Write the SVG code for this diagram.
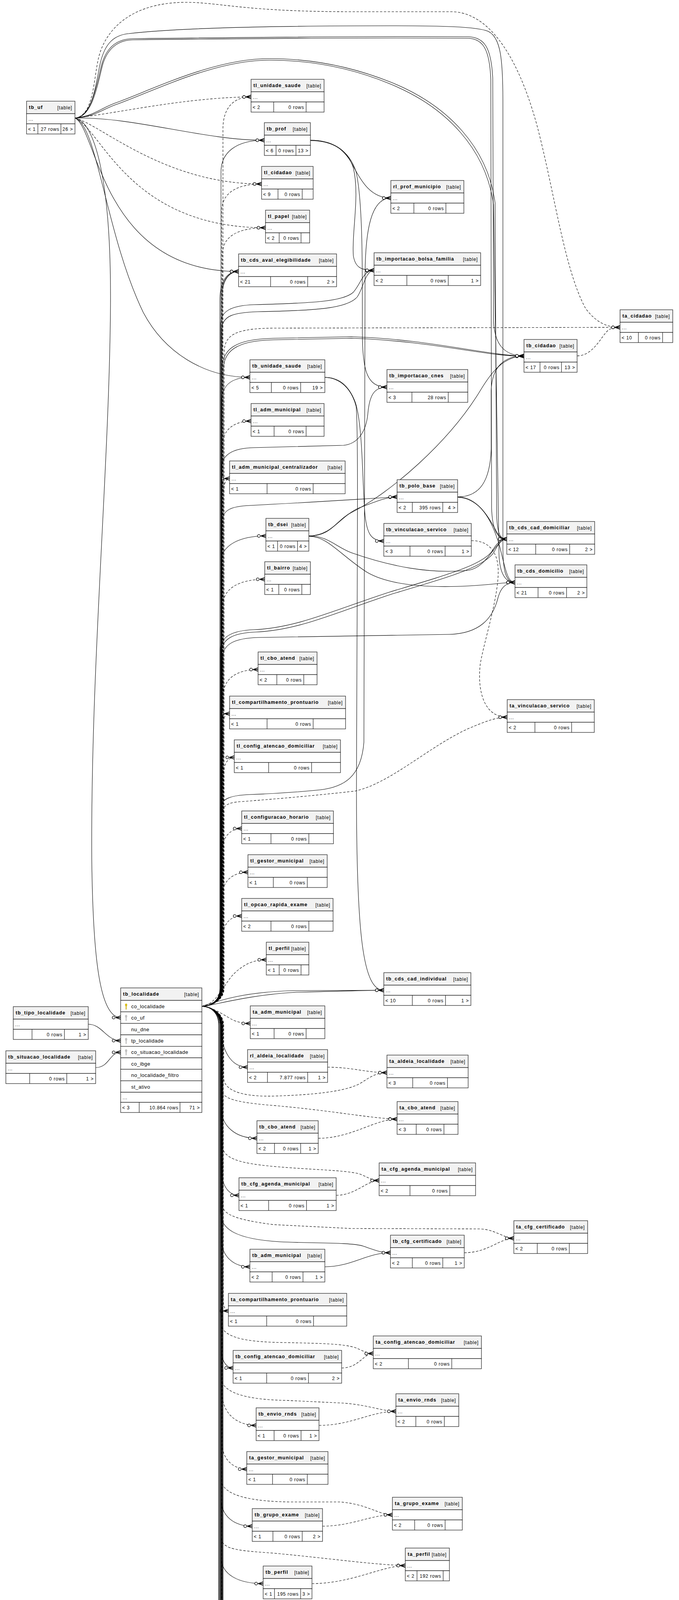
<svg xmlns="http://www.w3.org/2000/svg" xmlns:xlink="http://www.w3.org/1999/xlink" width="1739" height="5931" viewBox="0 0 1739 5931">
<style>
.hd{fill:#f2f2f2;stroke:#1a1a1a;stroke-width:1.2}
.bd{fill:#fff;stroke:#1a1a1a;stroke-width:1.2}
.dv{stroke:#1a1a1a;stroke-width:1.2;fill:none}
text{font-family:"Liberation Sans",Arial,sans-serif;fill:#000}
.h{font-size:12.5px;font-weight:bold;letter-spacing:1px}
.t{font-size:12px;letter-spacing:0.8px}
.c{font-size:13px;letter-spacing:0.5px}
.r{text-anchor:end}
.e{fill:none;stroke:#000;stroke-width:1.1;marker-end:url(#cf)}
.d{stroke-dasharray:6 4}
.ky{fill:#e8c800;stroke:#9a8400;stroke-width:0.5}
.kg{fill:#c4c4c4;stroke:#999;stroke-width:0.5}
</style>
<defs>
<marker id="cf" viewBox="0 0 24 12" refX="24" refY="6" markerWidth="24" markerHeight="12" markerUnits="userSpaceOnUse" orient="auto">
<path d="M11,6L24,1.5M11,6L24,6M11,6L24,10.5" fill="none" stroke="#000" stroke-width="1.8"/>
<circle cx="6" cy="6" r="3.6" fill="#fff" stroke="#000" stroke-width="1.3"/>
</marker>
<g id="keyY" class="ky"><ellipse cx="0" cy="-4.5" rx="2.4" ry="3"/><rect x="-0.9" y="-2" width="1.8" height="9"/></g>
<g id="keyG" class="kg"><ellipse cx="0" cy="-4.5" rx="2.4" ry="3"/><rect x="-0.9" y="-2" width="1.8" height="9"/></g>
</defs>
<rect width="1739" height="5931" fill="#fff"/>
<g id="connectors">
<path class="e d" d="M517,2576 C540,2576 571,2562 571,2530 L571,330 C571,280 595,248 643,248"/>
<path class="e" d="M517,2576 C540,2576 566,2562 566,2530 L566,440 C566,390 605,359 677,359"/>
<path class="e d" d="M517,2576 C540,2576 568,2562 568,2530 L568,540 C568,495 605,471 670,471"/>
<path class="e d" d="M517,2576 C540,2576 570,2562 570,2530 L570,650 C570,605 610,583 680,583"/>
<path class="e" d="M517,2576 C540,2576 563,2562 563,2530 L563,770 C563,720 580,695 611,695"/>
<path class="e" d="M517,2576 C540,2576 566,2562 566,2530 L566,765 C566,718 585,695 611,695"/>
<path class="e" d="M517,2576 C540,2576 569,2562 569,2530 L569,760 C569,716 588,695 611,695"/>
<path class="e" d="M517,2576 C540,2576 567,2562 567,2530 L567,1030 C567,985 595,966 640,966"/>
<path class="e d" d="M517,2576 C540,2576 570,2562 570,2530 L570,1140 C570,1100 600,1078 643,1078"/>
<path class="e d" d="M517,2576 C540,2576 572,2562 572,2530 L572,1275 C572,1245 576,1225 588,1225"/>
<path class="e" d="M517,2576 C540,2576 566,2562 566,2530 L566,1440 C566,1395 615,1372 681,1372"/>
<path class="e d" d="M517,2576 C540,2576 571,2562 571,2530 L571,1550 C571,1505 615,1483 678,1483"/>
<path class="e d" d="M517,2576 C540,2576 572,2562 572,2530 L572,1780 C572,1735 610,1714 661,1714"/>
<path class="e d" d="M517,2576 C540,2576 570,2562 570,2530 L570,1862 C570,1840 576,1827 588,1827"/>
<path class="e d" d="M517,2576 C540,2576 573,2562 573,2530 L573,1982 C573,1955 584,1939 600,1939"/>
<path class="e d" d="M517,2576 C540,2576 568,2562 568,2530 L568,2185 C568,2140 592,2121 619,2121"/>
<path class="e d" d="M517,2576 C540,2576 569,2562 569,2530 L569,2295 C569,2252 600,2233 635,2233"/>
<path class="e d" d="M517,2576 C540,2576 570,2562 570,2530 L570,2405 C570,2362 592,2345 619,2345"/>
<path class="e d" d="M517,2576 C555,2572 572,2520 600,2492 C625,2468 650,2457 682,2457"/>
<path class="e" d="M517,2576 C560,2562 620,2540 750,2536 L983,2535"/>
<path class="e" d="M517,2577 C565,2569 640,2547 760,2540 C900,2537 950,2535 983,2535"/>
<path class="e d" d="M517,2576 C540,2576 574,2562 574,2530 L574,905 C574,858 600,841 700,840 L1588,838"/>
<path class="e" d="M517,2576 C540,2576 569,2562 569,2530 L569,945 C569,895 600,868 700,866 L900,862 C1100,868 1250,911 1342,911"/>
<path class="e" d="M517,2576 C540,2576 572,2562 572,2530 L572,948 C572,900 603,872 700,870 L900,866 C1100,872 1250,913 1342,912"/>
<path class="e" d="M517,2576 C540,2576 565,2562 565,2530 L565,830 C565,795 595,782 650,780 C800,776 880,772 905,748 C925,725 930,692 958,692"/>
<path class="e" d="M517,2576 C540,2576 568,2562 568,2530 L568,845 C568,808 598,800 660,798 C810,795 890,790 915,760 C932,735 935,694 958,692"/>
<path class="e" d="M517,2576 C540,2576 565,2562 565,2530 L565,2070 C565,2045 590,2036 640,2034 C700,2032 760,2028 820,2022 C880,2015 925,1990 932,1900 L935,700 C936,590 950,507 1001,507"/>
<path class="e" d="M517,2576 C540,2576 567,2562 567,2530 L567,1200 C567,1162 600,1147 650,1146 L880,1140 C920,1136 938,1100 942,1060 C946,1012 958,991 991,991"/>
<path class="e" d="M517,2576 C540,2576 568,2562 568,2530 L568,1340 C568,1305 592,1296 640,1294 C800,1286 900,1279 1017,1272"/>
<path class="e d" d="M517,2576 C540,2576 566,2562 566,2530 L566,2095 C566,2062 582,2054 620,2052 C750,2042 850,2032 910,2025 C1000,2005 1100,1910 1200,1865 C1240,1848 1270,1836 1299,1836"/>
<path class="e" d="M517,2576 C540,2576 564,2562 564,2530 L564,1665 C564,1628 598,1614 650,1612 C760,1608 860,1560 1000,1515 C1150,1470 1240,1445 1262,1408 C1272,1392 1282,1380 1298,1380"/>
<path class="e" d="M517,2576 C540,2576 567,2562 567,2530 L567,1672 C567,1634 600,1620 655,1618 C765,1614 865,1566 1003,1521 C1153,1476 1243,1451 1266,1412 C1275,1395 1284,1380 1298,1380"/>
<path class="e" d="M517,2576 C540,2576 570,2562 570,2530 L570,1685 C570,1648 602,1634 660,1632 L1150,1624 C1230,1622 1262,1582 1275,1532 C1282,1505 1295,1491 1319,1491"/>
<path class="e d" d="M517,2576 C550,2580 575,2600 598,2612 C613,2618 625,2620 641,2620"/>
<path class="e" d="M517,2576 C540,2577 566,2592 566,2630 C567,2690 592,2732 634,2732"/>
<path class="e d" d="M517,2576 C540,2577 573,2592 573,2625 L573,2760 C574,2792 620,2808 700,2806 C800,2803 880,2795 920,2775 C945,2760 960,2746 991,2746"/>
<path class="e" d="M517,2576 C540,2577 566,2592 566,2625 L566,2835 C567,2885 605,2914 658,2914"/>
<path class="e d" d="M517,2576 C540,2577 568,2592 568,2625 L568,2790 C570,2812 600,2822 700,2830 C850,2843 950,2863 1017,2865"/>
<path class="e" d="M517,2576 C540,2577 567,2592 567,2625 L567,2995 C568,3035 585,3060 612,3060"/>
<path class="e d" d="M517,2576 C540,2577 569,2592 569,2625 L569,2930 C570,2962 600,2977 700,2986 C800,2995 880,2995 920,3005 C940,3012 950,3022 971,3022"/>
<path class="e d" d="M517,2576 C540,2577 570,2592 570,2625 L570,3085 C571,3108 600,3122 700,3135 L900,3145 L1230,3146 C1270,3148 1290,3170 1316,3170"/>
<path class="e" d="M517,2576 C540,2577 565,2592 565,2625 L565,3105 C566,3145 600,3172 717,3179 C800,3183 900,3180 930,3190 C960,3200 975,3207 1000,3207"/>
<path class="e" d="M517,2576 C540,2577 568,2592 568,2625 L568,3175 C568,3218 600,3243 640,3243"/>
<path class="e d" d="M517,2576 C540,2577 572,2592 572,2625 L572,3330 C572,3346 578,3356 585,3356"/>
<path class="e d" d="M517,2576 C540,2577 566,2592 566,2625 L566,3385 C566,3422 620,3436 732,3437 C820,3439 880,3440 910,3450 C930,3458 940,3465 956,3465"/>
<path class="e" d="M517,2576 C540,2577 566,2592 566,2625 L566,3445 C566,3482 578,3502 597,3502"/>
<path class="e d" d="M517,2576 C540,2577 566,2592 566,2625 L566,3525 C566,3562 620,3583 732,3585 L881,3592 C950,3598 980,3613 1014,3613"/>
<path class="e d" d="M517,2576 C540,2577 569,2592 569,2625 L569,3565 C569,3622 610,3649 656,3649"/>
<path class="e d" d="M517,2576 C540,2577 569,2592 569,2625 L569,3695 C569,3738 600,3761 632,3761"/>
<path class="e d" d="M517,2576 C540,2577 566,2592 566,2625 L566,3785 C566,3822 620,3843 740,3845 L870,3845 C940,3850 970,3878 1005,3878"/>
<path class="e" d="M517,2576 C540,2577 566,2592 566,2625 L566,3835 C566,3882 600,3907 646,3907"/>
<path class="e d" d="M517,2576 C540,2577 566,2592 566,2625 L566,3932 C566,3966 600,3969 700,3976 C850,3990 950,4005 1038,4008"/>
<path class="e" d="M517,2576 C540,2577 566,2592 566,2625 L566,3985 C566,4032 612,4054 674,4054"/>
<path class="e d" d="M517,2576 C540,2577 568,2592 568,2625 L568,4095 C568,4142 600,4166 640,4166"/>
<path class="e d" d="M517,2576 C540,2577 566,2592 566,2625 L566,4192 C566,4227 620,4246 720,4250 C850,4258 940,4276 1010,4276"/>
<path class="e" d="M517,2576 C540,2577 566,2592 566,2625 L566,4245 C566,4292 600,4313 651,4313"/>
<path class="e" d="M517,2576 C540,2577 569,2592 569,2625 L569,4362 C574,4402 612,4425 664,4425"/>
<path class="e" d="M517,2576 C540,2577 560,2592 560,2625 L560,4460 C562,4505 575,4533 594,4537"/>
<path class="e" d="M517,2576 C540,2577 563,2592 563,2625 L563,4572 C565,4617 578,4644 594,4649"/>
<path class="e" d="M517,2576 C540,2577 566,2592 566,2625 L566,4682 C568,4730 585,4756 604,4761"/>
<path class="e" d="M517,2576 C540,2577 569,2592 569,2625 L569,4782 C575,4842 600,4869 627,4873"/>
<path class="e" d="M517,2576 C540,2577 567,2592 567,2625 L567,4930 C567,4962 572,4981 582,4985"/>
<path class="e" d="M517,2576 C540,2577 566,2592 566,2625 L566,5002 C570,5062 600,5093 630,5097"/>
<path class="e" d="M517,2576 C540,2577 571,2592 571,2625 L571,5140 C573,5182 595,5205 618,5209"/>
<path class="e" d="M517,2576 C540,2577 568,2592 568,2625 L568,5252 C570,5292 580,5317 594,5321"/>
<path class="e" d="M517,2576 C540,2577 566,2592 566,2625 L566,5362 C568,5402 578,5429 591,5433"/>
<path class="e" d="M517,2576 C540,2577 571,2592 571,2625 L571,5480 C572,5542 588,5603 628,5606"/>
<path class="e" d="M517,2576 C540,2577 564,2592 564,2625 L564,5640 C566,5692 592,5721 632,5723"/>
<path class="e" d="M517,2576 C540,2577 561,2592 561,2625 L561,5760 C565,5812 612,5835 667,5835"/>
<path class="e" d="M226,2622 C262,2622 272,2664 309,2664"/>
<path class="e" d="M245,2733 C280,2733 280,2694 309,2694"/>
<path class="e" d="M192,302 C240,310 285,450 283,780 C280,1200 232,1700 235,2200 C238,2450 255,2605 309,2605"/>
<path class="e d" d="M192,302 C300,290 470,250 643,248"/>
<path class="e" d="M192,302 C350,300 520,359 677,359"/>
<path class="e d" d="M192,302 C260,320 420,471 670,471"/>
<path class="e d" d="M192,302 C260,330 330,583 680,583"/>
<path class="e" d="M192,302 C250,330 260,695 611,695"/>
<path class="e" d="M192,302 C250,320 270,600 367,800 C420,900 520,966 640,966"/>
<path class="e d" d="M192,302 C240,298 240,200 252,150 C268,80 330,8 471,6 C560,5 620,30 900,30 L1156,30 C1240,30 1320,120 1375,320 C1420,490 1445,690 1500,790 C1530,830 1560,838 1588,838"/>
<path class="e" d="M192,302 C235,300 245,220 255,170 C265,120 285,90 330,86 C450,72 700,66 1000,66 C1130,66 1220,68 1250,80 C1282,95 1288,150 1288,260 L1288,1400 C1288,1460 1295,1491 1319,1491"/>
<path class="e" d="M192,302 C238,300 250,200 262,160 C275,120 300,100 340,99 C600,96 1000,92 1200,94 C1240,96 1258,120 1262,200 L1264,820 C1266,880 1290,911 1342,911"/>
<path class="e" d="M192,302 C240,301 252,202 264,162 C277,123 302,103 340,102 C600,99 1000,96 1200,98 C1236,100 1254,124 1257,204 L1259,1300 C1261,1360 1275,1380 1298,1380"/>
<path class="e" d="M192,302 C240,298 260,275 300,262 C400,225 550,150 690,150 C800,150 900,170 1000,210 C1150,270 1250,380 1268,520 L1272,1320 C1274,1365 1280,1380 1298,1380"/>
<path class="e" d="M192,302 C242,300 262,279 302,266 C402,229 552,154 690,154 C800,154 900,174 997,214 C1146,274 1245,384 1264,524 L1278,1420 C1280,1470 1295,1491 1319,1491"/>
<path class="e" d="M795,359 C850,359 880,380 902,420 C925,465 950,507 1001,507"/>
<path class="e" d="M795,359 C850,359 890,382 905,430 C922,500 900,600 905,655 C910,685 925,692 958,692"/>
<path class="e" d="M795,360 C852,360 895,385 912,440 C930,520 928,700 928,850 C928,950 940,991 991,991"/>
<path class="e" d="M832,966 C870,966 895,990 910,1030 C930,1090 928,1250 935,1320 C940,1365 950,1385 983,1385"/>
<path class="e" d="M832,966 C872,968 900,995 912,1040 C918,1100 915,1400 913,2000 C912,2400 930,2535 983,2535"/>
<path class="e" d="M791,1372 C850,1372 870,1322 920,1300 C960,1285 990,1272 1017,1272"/>
<path class="e" d="M791,1372 C850,1372 860,1332 900,1312 C1000,1262 1150,1132 1230,1000 C1260,950 1290,913 1342,911"/>
<path class="e" d="M791,1372 C840,1372 860,1400 900,1415 C1000,1450 1100,1470 1200,1460 C1250,1452 1270,1380 1298,1380"/>
<path class="e" d="M791,1373 C840,1373 870,1420 940,1465 C1000,1500 1100,1505 1200,1500 C1260,1497 1290,1491 1319,1491"/>
<path class="e" d="M1172,1272 C1230,1272 1255,1230 1258,1150 L1258,1000 C1260,940 1290,911 1342,911"/>
<path class="e" d="M1172,1272 C1220,1272 1250,1320 1270,1358 C1278,1373 1285,1380 1298,1380"/>
<path class="e" d="M1172,1273 C1230,1276 1260,1330 1280,1400 C1295,1460 1300,1491 1319,1491"/>
<path class="e d" d="M1207,1384 C1250,1384 1275,1410 1276,1460 C1277,1530 1240,1640 1230,1700 C1222,1770 1240,1836 1299,1836"/>
<path class="e d" d="M1478,911 C1520,911 1540,860 1558,845 C1568,839 1578,838 1588,838"/>
<path class="e d" d="M839,2732 C900,2732 940,2746 991,2746"/>
<path class="e d" d="M815,2914 C900,2914 960,2865 1017,2865"/>
<path class="e d" d="M861,3060 C910,3060 940,3022 971,3022"/>
<path class="e d" d="M1189,3207 C1250,3207 1280,3170 1316,3170"/>
<path class="e" d="M832,3243 C900,3243 940,3207 1000,3207"/>
<path class="e d" d="M875,3502 C920,3502 930,3465 956,3465"/>
<path class="e d" d="M817,3649 C900,3649 950,3613 1014,3613"/>
<path class="e d" d="M826,3907 C900,3907 950,3878 1005,3878"/>
<path class="e d" d="M799,4054 C900,4054 980,4008 1038,4008"/>
<path class="e d" d="M821,4313 C900,4313 960,4276 1010,4276"/>
</g>
<g id="tb_uf" transform="translate(68,259)"><rect class="hd" width="124" height="32"/><rect class="bd" y="32" width="124" height="26"/><rect class="bd" y="58" width="124" height="26"/><path class="dv" d="M29,58v26M88,58v26"/><text class="h" x="6" y="20">tb_uf</text><text class="t r" x="117" y="21">[table]</text><text class="t" x="5" y="50">...</text><text class="t" x="4" y="76">&lt; 1</text><text class="t r" x="84" y="76">27 rows</text><text class="t r" x="119" y="76">26 &gt;</text></g>
<g id="tl_unidade_saude" transform="translate(643,203)"><rect class="hd" width="187" height="32"/><rect class="bd" y="32" width="187" height="26"/><rect class="bd" y="58" width="187" height="26"/><path class="dv" d="M58,58v26M141,58v26"/><text class="h" x="6" y="20">tl_unidade_saude</text><text class="t r" x="180" y="21">[table]</text><text class="t" x="5" y="50">...</text><text class="t" x="4" y="76">&lt; 2</text><text class="t r" x="136" y="76">0 rows</text></g>
<g id="tb_prof" transform="translate(677,314)"><rect class="hd" width="118" height="32"/><rect class="bd" y="32" width="118" height="26"/><rect class="bd" y="58" width="118" height="26"/><path class="dv" d="M30,58v26M81,58v26"/><text class="h" x="6" y="20">tb_prof</text><text class="t r" x="111" y="21">[table]</text><text class="t" x="5" y="50">...</text><text class="t" x="4" y="76">&lt; 6</text><text class="t r" x="76" y="76">0 rows</text><text class="t r" x="113" y="76">13 &gt;</text></g>
<g id="tl_cidadao" transform="translate(670,426)"><rect class="hd" width="132" height="32"/><rect class="bd" y="32" width="132" height="26"/><rect class="bd" y="58" width="132" height="26"/><path class="dv" d="M42,58v26M104,58v26"/><text class="h" x="6" y="20">tl_cidadao</text><text class="t r" x="125" y="21">[table]</text><text class="t" x="5" y="50">...</text><text class="t" x="4" y="76">&lt; 9</text><text class="t r" x="99" y="76">0 rows</text></g>
<g id="tl_papel" transform="translate(680,538)"><rect class="hd" width="113" height="32"/><rect class="bd" y="32" width="113" height="26"/><rect class="bd" y="58" width="113" height="26"/><path class="dv" d="M35,58v26M91,58v26"/><text class="h" x="6" y="20">tl_papel</text><text class="t r" x="106" y="21">[table]</text><text class="t" x="5" y="50">...</text><text class="t" x="4" y="76">&lt; 2</text><text class="t r" x="86" y="76">0 rows</text></g>
<g id="tb_cds_aval_elegibilidade" transform="translate(611,650)"><rect class="hd" width="251" height="32"/><rect class="bd" y="32" width="251" height="26"/><rect class="bd" y="58" width="251" height="26"/><path class="dv" d="M82,58v26M177,58v26"/><text class="h" x="6" y="20">tb_cds_aval_elegibilidade</text><text class="t r" x="244" y="21">[table]</text><text class="t" x="5" y="50">...</text><text class="t" x="4" y="76">&lt; 21</text><text class="t r" x="172" y="76">0 rows</text><text class="t r" x="246" y="76">2 &gt;</text></g>
<g id="rl_prof_municipio" transform="translate(1001,462)"><rect class="hd" width="187" height="32"/><rect class="bd" y="32" width="187" height="26"/><rect class="bd" y="58" width="187" height="26"/><path class="dv" d="M59,58v26M141,58v26"/><text class="h" x="6" y="20">rl_prof_municipio</text><text class="t r" x="180" y="21">[table]</text><text class="t" x="5" y="50">...</text><text class="t" x="4" y="76">&lt; 2</text><text class="t r" x="136" y="76">0 rows</text></g>
<g id="tb_importacao_bolsa_familia" transform="translate(958,647)"><rect class="hd" width="273" height="32"/><rect class="bd" y="32" width="273" height="26"/><rect class="bd" y="58" width="273" height="26"/><path class="dv" d="M84,58v26M190,58v26"/><text class="h" x="6" y="20">tb_importacao_bolsa_familia</text><text class="t r" x="266" y="21">[table]</text><text class="t" x="5" y="50">...</text><text class="t" x="4" y="76">&lt; 2</text><text class="t r" x="185" y="76">0 rows</text><text class="t r" x="268" y="76">1 &gt;</text></g>
<g id="ta_cidadao" transform="translate(1588,793)"><rect class="hd" width="135" height="32"/><rect class="bd" y="32" width="135" height="26"/><rect class="bd" y="58" width="135" height="26"/><path class="dv" d="M47,58v26M109,58v26"/><text class="h" x="6" y="20">ta_cidadao</text><text class="t r" x="128" y="21">[table]</text><text class="t" x="5" y="50">...</text><text class="t" x="4" y="76">&lt; 10</text><text class="t r" x="104" y="76">0 rows</text></g>
<g id="tb_cidadao" transform="translate(1342,869)"><rect class="hd" width="136" height="32"/><rect class="bd" y="32" width="136" height="26"/><rect class="bd" y="58" width="136" height="26"/><path class="dv" d="M41,58v26M96,58v26"/><text class="h" x="6" y="20">tb_cidadao</text><text class="t r" x="129" y="21">[table]</text><text class="t" x="5" y="50">...</text><text class="t" x="4" y="76">&lt; 17</text><text class="t r" x="91" y="76">0 rows</text><text class="t r" x="131" y="76">13 &gt;</text></g>
<g id="tb_importacao_cnes" transform="translate(991,946)"><rect class="hd" width="207" height="32"/><rect class="bd" y="32" width="207" height="26"/><rect class="bd" y="58" width="207" height="26"/><path class="dv" d="M64,58v26M157,58v26"/><text class="h" x="6" y="20">tb_importacao_cnes</text><text class="t r" x="200" y="21">[table]</text><text class="t" x="5" y="50">...</text><text class="t" x="4" y="76">&lt; 3</text><text class="t r" x="152" y="76">28 rows</text></g>
<g id="tb_unidade_saude" transform="translate(640,921)"><rect class="hd" width="192" height="32"/><rect class="bd" y="32" width="192" height="26"/><rect class="bd" y="58" width="192" height="26"/><path class="dv" d="M55,58v26M130,58v26"/><text class="h" x="6" y="20">tb_unidade_saude</text><text class="t r" x="185" y="21">[table]</text><text class="t" x="5" y="50">...</text><text class="t" x="4" y="76">&lt; 5</text><text class="t r" x="125" y="76">0 rows</text><text class="t r" x="187" y="76">19 &gt;</text></g>
<g id="tl_adm_municipal" transform="translate(643,1033)"><rect class="hd" width="187" height="32"/><rect class="bd" y="32" width="187" height="26"/><rect class="bd" y="58" width="187" height="26"/><path class="dv" d="M59,58v26M141,58v26"/><text class="h" x="6" y="20">tl_adm_municipal</text><text class="t r" x="180" y="21">[table]</text><text class="t" x="5" y="50">...</text><text class="t" x="4" y="76">&lt; 1</text><text class="t r" x="136" y="76">0 rows</text></g>
<g id="tl_adm_municipal_centralizador" transform="translate(588,1180)"><rect class="hd" width="296" height="32"/><rect class="bd" y="32" width="296" height="26"/><rect class="bd" y="58" width="296" height="26"/><path class="dv" d="M96,58v26M214,58v26"/><text class="h" x="6" y="20">tl_adm_municipal_centralizador</text><text class="t r" x="289" y="21">[table]</text><text class="t" x="5" y="50">...</text><text class="t" x="4" y="76">&lt; 1</text><text class="t r" x="209" y="76">0 rows</text></g>
<g id="tb_polo_base" transform="translate(1017,1228)"><rect class="hd" width="155" height="32"/><rect class="bd" y="32" width="155" height="26"/><rect class="bd" y="58" width="155" height="26"/><path class="dv" d="M39,58v26M117,58v26"/><text class="h" x="6" y="20">tb_polo_base</text><text class="t r" x="148" y="21">[table]</text><text class="t" x="5" y="50">...</text><text class="t" x="4" y="76">&lt; 2</text><text class="t r" x="112" y="76">395 rows</text><text class="t r" x="150" y="76">4 &gt;</text></g>
<g id="tb_dsei" transform="translate(681,1327)"><rect class="hd" width="110" height="32"/><rect class="bd" y="32" width="110" height="26"/><rect class="bd" y="58" width="110" height="26"/><path class="dv" d="M30,58v26M81,58v26"/><text class="h" x="6" y="20">tb_dsei</text><text class="t r" x="103" y="21">[table]</text><text class="t" x="5" y="50">...</text><text class="t" x="4" y="76">&lt; 1</text><text class="t r" x="76" y="76">0 rows</text><text class="t r" x="105" y="76">4 &gt;</text></g>
<g id="tb_vinculacao_servico" transform="translate(983,1340)"><rect class="hd" width="224" height="32"/><rect class="bd" y="32" width="224" height="26"/><rect class="bd" y="58" width="224" height="26"/><path class="dv" d="M67,58v26M157,58v26"/><text class="h" x="6" y="20">tb_vinculacao_servico</text><text class="t r" x="217" y="21">[table]</text><text class="t" x="5" y="50">...</text><text class="t" x="4" y="76">&lt; 3</text><text class="t r" x="152" y="76">0 rows</text><text class="t r" x="219" y="76">1 &gt;</text></g>
<g id="tb_cds_cad_domiciliar" transform="translate(1298,1335)"><rect class="hd" width="225" height="32"/><rect class="bd" y="32" width="225" height="26"/><rect class="bd" y="58" width="225" height="26"/><path class="dv" d="M74,58v26M161,58v26"/><text class="h" x="6" y="20">tb_cds_cad_domiciliar</text><text class="t r" x="218" y="21">[table]</text><text class="t" x="5" y="50">...</text><text class="t" x="4" y="76">&lt; 12</text><text class="t r" x="156" y="76">0 rows</text><text class="t r" x="220" y="76">2 &gt;</text></g>
<g id="tb_cds_domicilio" transform="translate(1319,1446)"><rect class="hd" width="184" height="32"/><rect class="bd" y="32" width="184" height="26"/><rect class="bd" y="58" width="184" height="26"/><path class="dv" d="M59,58v26M132,58v26"/><text class="h" x="6" y="20">tb_cds_domicilio</text><text class="t r" x="177" y="21">[table]</text><text class="t" x="5" y="50">...</text><text class="t" x="4" y="76">&lt; 21</text><text class="t r" x="127" y="76">0 rows</text><text class="t r" x="179" y="76">2 &gt;</text></g>
<g id="tl_bairro" transform="translate(678,1438)"><rect class="hd" width="117" height="32"/><rect class="bd" y="32" width="117" height="26"/><rect class="bd" y="58" width="117" height="26"/><path class="dv" d="M36,58v26M95,58v26"/><text class="h" x="6" y="20">tl_bairro</text><text class="t r" x="110" y="21">[table]</text><text class="t" x="5" y="50">...</text><text class="t" x="4" y="76">&lt; 1</text><text class="t r" x="90" y="76">0 rows</text></g>
<g id="tl_cbo_atend" transform="translate(661,1669)"><rect class="hd" width="151" height="32"/><rect class="bd" y="32" width="151" height="26"/><rect class="bd" y="58" width="151" height="26"/><path class="dv" d="M48,58v26M117,58v26"/><text class="h" x="6" y="20">tl_cbo_atend</text><text class="t r" x="144" y="21">[table]</text><text class="t" x="5" y="50">...</text><text class="t" x="4" y="76">&lt; 2</text><text class="t r" x="112" y="76">0 rows</text></g>
<g id="ta_vinculacao_servico" transform="translate(1299,1791)"><rect class="hd" width="223" height="32"/><rect class="bd" y="32" width="223" height="26"/><rect class="bd" y="58" width="223" height="26"/><path class="dv" d="M71,58v26M165,58v26"/><text class="h" x="6" y="20">ta_vinculacao_servico</text><text class="t r" x="216" y="21">[table]</text><text class="t" x="5" y="50">...</text><text class="t" x="4" y="76">&lt; 2</text><text class="t r" x="160" y="76">0 rows</text></g>
<g id="tl_compartilhamento_prontuario" transform="translate(588,1782)"><rect class="hd" width="297" height="32"/><rect class="bd" y="32" width="297" height="26"/><rect class="bd" y="58" width="297" height="26"/><path class="dv" d="M96,58v26M214,58v26"/><text class="h" x="6" y="20">tl_compartilhamento_prontuario</text><text class="t r" x="290" y="21">[table]</text><text class="t" x="5" y="50">...</text><text class="t" x="4" y="76">&lt; 1</text><text class="t r" x="209" y="76">0 rows</text></g>
<g id="tl_config_atencao_domiciliar" transform="translate(600,1894)"><rect class="hd" width="272" height="32"/><rect class="bd" y="32" width="272" height="26"/><rect class="bd" y="58" width="272" height="26"/><path class="dv" d="M88,58v26M198,58v26"/><text class="h" x="6" y="20">tl_config_atencao_domiciliar</text><text class="t r" x="265" y="21">[table]</text><text class="t" x="5" y="50">...</text><text class="t" x="4" y="76">&lt; 1</text><text class="t r" x="193" y="76">0 rows</text></g>
<g id="tl_configuracao_horario" transform="translate(619,2076)"><rect class="hd" width="235" height="32"/><rect class="bd" y="32" width="235" height="26"/><rect class="bd" y="58" width="235" height="26"/><path class="dv" d="M75,58v26M172,58v26"/><text class="h" x="6" y="20">tl_configuracao_horario</text><text class="t r" x="228" y="21">[table]</text><text class="t" x="5" y="50">...</text><text class="t" x="4" y="76">&lt; 1</text><text class="t r" x="167" y="76">0 rows</text></g>
<g id="tl_gestor_municipal" transform="translate(635,2188)"><rect class="hd" width="203" height="32"/><rect class="bd" y="32" width="203" height="26"/><rect class="bd" y="58" width="203" height="26"/><path class="dv" d="M65,58v26M152,58v26"/><text class="h" x="6" y="20">tl_gestor_municipal</text><text class="t r" x="196" y="21">[table]</text><text class="t" x="5" y="50">...</text><text class="t" x="4" y="76">&lt; 1</text><text class="t r" x="147" y="76">0 rows</text></g>
<g id="tl_opcao_rapida_exame" transform="translate(619,2300)"><rect class="hd" width="234" height="32"/><rect class="bd" y="32" width="234" height="26"/><rect class="bd" y="58" width="234" height="26"/><path class="dv" d="M75,58v26M172,58v26"/><text class="h" x="6" y="20">tl_opcao_rapida_exame</text><text class="t r" x="227" y="21">[table]</text><text class="t" x="5" y="50">...</text><text class="t" x="4" y="76">&lt; 2</text><text class="t r" x="167" y="76">0 rows</text></g>
<g id="tl_perfil" transform="translate(682,2412)"><rect class="hd" width="109" height="32"/><rect class="bd" y="32" width="109" height="26"/><rect class="bd" y="58" width="109" height="26"/><path class="dv" d="M33,58v26M89,58v26"/><text class="h" x="6" y="20">tl_perfil</text><text class="t r" x="102" y="21">[table]</text><text class="t" x="5" y="50">...</text><text class="t" x="4" y="76">&lt; 1</text><text class="t r" x="84" y="76">0 rows</text></g>
<g id="tb_cds_cad_individual" transform="translate(983,2490)"><rect class="hd" width="223" height="32"/><rect class="bd" y="32" width="223" height="26"/><rect class="bd" y="58" width="223" height="26"/><path class="dv" d="M73,58v26M158,58v26"/><text class="h" x="6" y="20">tb_cds_cad_individual</text><text class="t r" x="216" y="21">[table]</text><text class="t" x="5" y="50">...</text><text class="t" x="4" y="76">&lt; 10</text><text class="t r" x="153" y="76">0 rows</text><text class="t r" x="218" y="76">1 &gt;</text></g>
<g id="tb_tipo_localidade" transform="translate(34,2577)"><rect class="hd" width="192" height="32"/><rect class="bd" y="32" width="192" height="26"/><rect class="bd" y="58" width="192" height="26"/><path class="dv" d="M48,58v26M131,58v26"/><text class="h" x="6" y="20">tb_tipo_localidade</text><text class="t r" x="185" y="21">[table]</text><text class="t" x="5" y="50">...</text><text class="t r" x="126" y="76">0 rows</text><text class="t r" x="187" y="76">1 &gt;</text></g>
<g id="tb_situacao_localidade" transform="translate(15,2690)"><rect class="hd" width="230" height="32"/><rect class="bd" y="32" width="230" height="26"/><rect class="bd" y="58" width="230" height="26"/><path class="dv" d="M61,58v26M156,58v26"/><text class="h" x="6" y="20">tb_situacao_localidade</text><text class="t r" x="223" y="21">[table]</text><text class="t" x="5" y="50">...</text><text class="t r" x="151" y="76">0 rows</text><text class="t r" x="225" y="76">1 &gt;</text></g>
<g id="tb_localidade" transform="translate(309,2529)"><rect class="hd" width="208" height="32"/><rect class="bd" y="32" width="208" height="29.4"/><rect class="bd" y="61.4" width="208" height="29.4"/><rect class="bd" y="90.8" width="208" height="29.4"/><rect class="bd" y="120.2" width="208" height="29.4"/><rect class="bd" y="149.6" width="208" height="29.4"/><rect class="bd" y="179" width="208" height="29.4"/><rect class="bd" y="208.4" width="208" height="29.4"/><rect class="bd" y="237.8" width="208" height="29.4"/><rect class="bd" y="267.2" width="208" height="25.8"/><rect class="bd" y="293" width="208" height="26"/><path class="dv" d="M47.5,293v26M152,293v26"/><text class="h" x="6" y="20">tb_localidade</text><text class="t r" x="201" y="21">[table]</text><use xlink:href="#keyY" x="14" y="48"/><text class="c" x="27" y="52">co_localidade</text><use xlink:href="#keyG" x="14" y="77"/><text class="c" x="27" y="81">co_uf</text><text class="c" x="27" y="111">nu_dne</text><use xlink:href="#keyG" x="14" y="136"/><text class="c" x="27" y="140">tp_localidade</text><use xlink:href="#keyG" x="14" y="165"/><text class="c" x="27" y="169">co_situacao_localidade</text><text class="c" x="27" y="199">co_ibge</text><text class="c" x="27" y="228">no_localidade_filtro</text><text class="c" x="27" y="258">st_ativo</text><text class="t" x="5" y="285">...</text><text class="t" x="4" y="311">&lt; 3</text><text class="t r" x="148" y="311">10.864 rows</text><text class="t r" x="203" y="311">71 &gt;</text></g>
<g id="ta_adm_municipal" transform="translate(641,2575)"><rect class="hd" width="191" height="32"/><rect class="bd" y="32" width="191" height="26"/><rect class="bd" y="58" width="191" height="26"/><path class="dv" d="M61,58v26M143,58v26"/><text class="h" x="6" y="20">ta_adm_municipal</text><text class="t r" x="184" y="21">[table]</text><text class="t" x="5" y="50">...</text><text class="t" x="4" y="76">&lt; 1</text><text class="t r" x="138" y="76">0 rows</text></g>
<g id="rl_aldeia_localidade" transform="translate(634,2687)"><rect class="hd" width="205" height="32"/><rect class="bd" y="32" width="205" height="26"/><rect class="bd" y="58" width="205" height="26"/><path class="dv" d="M51,58v26M154,58v26"/><text class="h" x="6" y="20">rl_aldeia_localidade</text><text class="t r" x="198" y="21">[table]</text><text class="t" x="5" y="50">...</text><text class="t" x="4" y="76">&lt; 2</text><text class="t r" x="149" y="76">7.877 rows</text><text class="t r" x="200" y="76">1 &gt;</text></g>
<g id="ta_aldeia_localidade" transform="translate(991,2701)"><rect class="hd" width="208" height="32"/><rect class="bd" y="32" width="208" height="26"/><rect class="bd" y="58" width="208" height="26"/><path class="dv" d="M66,58v26M155,58v26"/><text class="h" x="6" y="20">ta_aldeia_localidade</text><text class="t r" x="201" y="21">[table]</text><text class="t" x="5" y="50">...</text><text class="t" x="4" y="76">&lt; 3</text><text class="t r" x="150" y="76">0 rows</text></g>
<g id="ta_cbo_atend" transform="translate(1017,2820)"><rect class="hd" width="156" height="32"/><rect class="bd" y="32" width="156" height="26"/><rect class="bd" y="58" width="156" height="26"/><path class="dv" d="M49,58v26M120,58v26"/><text class="h" x="6" y="20">ta_cbo_atend</text><text class="t r" x="149" y="21">[table]</text><text class="t" x="5" y="50">...</text><text class="t" x="4" y="76">&lt; 3</text><text class="t r" x="115" y="76">0 rows</text></g>
<g id="tb_cbo_atend" transform="translate(658,2869)"><rect class="hd" width="157" height="32"/><rect class="bd" y="32" width="157" height="26"/><rect class="bd" y="58" width="157" height="26"/><path class="dv" d="M45,58v26M112,58v26"/><text class="h" x="6" y="20">tb_cbo_atend</text><text class="t r" x="150" y="21">[table]</text><text class="t" x="5" y="50">...</text><text class="t" x="4" y="76">&lt; 2</text><text class="t r" x="107" y="76">0 rows</text><text class="t r" x="152" y="76">1 &gt;</text></g>
<g id="ta_cfg_agenda_municipal" transform="translate(971,2977)"><rect class="hd" width="247" height="32"/><rect class="bd" y="32" width="247" height="26"/><rect class="bd" y="58" width="247" height="26"/><path class="dv" d="M79,58v26M181,58v26"/><text class="h" x="6" y="20">ta_cfg_agenda_municipal</text><text class="t r" x="240" y="21">[table]</text><text class="t" x="5" y="50">...</text><text class="t" x="4" y="76">&lt; 2</text><text class="t r" x="176" y="76">0 rows</text></g>
<g id="tb_cfg_agenda_municipal" transform="translate(612,3015)"><rect class="hd" width="249" height="32"/><rect class="bd" y="32" width="249" height="26"/><rect class="bd" y="58" width="249" height="26"/><path class="dv" d="M76,58v26M173,58v26"/><text class="h" x="6" y="20">tb_cfg_agenda_municipal</text><text class="t r" x="242" y="21">[table]</text><text class="t" x="5" y="50">...</text><text class="t" x="4" y="76">&lt; 1</text><text class="t r" x="168" y="76">0 rows</text><text class="t r" x="244" y="76">1 &gt;</text></g>
<g id="ta_cfg_certificado" transform="translate(1316,3125)"><rect class="hd" width="189" height="32"/><rect class="bd" y="32" width="189" height="26"/><rect class="bd" y="58" width="189" height="26"/><path class="dv" d="M60,58v26M142,58v26"/><text class="h" x="6" y="20">ta_cfg_certificado</text><text class="t r" x="182" y="21">[table]</text><text class="t" x="5" y="50">...</text><text class="t" x="4" y="76">&lt; 2</text><text class="t r" x="137" y="76">0 rows</text></g>
<g id="tb_cfg_certificado" transform="translate(1000,3162)"><rect class="hd" width="189" height="32"/><rect class="bd" y="32" width="189" height="26"/><rect class="bd" y="58" width="189" height="26"/><path class="dv" d="M56,58v26M134,58v26"/><text class="h" x="6" y="20">tb_cfg_certificado</text><text class="t r" x="182" y="21">[table]</text><text class="t" x="5" y="50">...</text><text class="t" x="4" y="76">&lt; 2</text><text class="t r" x="129" y="76">0 rows</text><text class="t r" x="184" y="76">1 &gt;</text></g>
<g id="tb_adm_municipal" transform="translate(640,3198)"><rect class="hd" width="192" height="32"/><rect class="bd" y="32" width="192" height="26"/><rect class="bd" y="58" width="192" height="26"/><path class="dv" d="M57,58v26M136,58v26"/><text class="h" x="6" y="20">tb_adm_municipal</text><text class="t r" x="185" y="21">[table]</text><text class="t" x="5" y="50">...</text><text class="t" x="4" y="76">&lt; 2</text><text class="t r" x="131" y="76">0 rows</text><text class="t r" x="187" y="76">1 &gt;</text></g>
<g id="ta_compartilhamento_prontuario" transform="translate(585,3311)"><rect class="hd" width="303" height="32"/><rect class="bd" y="32" width="303" height="26"/><rect class="bd" y="58" width="303" height="26"/><path class="dv" d="M98,58v26M218,58v26"/><text class="h" x="6" y="20">ta_compartilhamento_prontuario</text><text class="t r" x="296" y="21">[table]</text><text class="t" x="5" y="50">...</text><text class="t" x="4" y="76">&lt; 1</text><text class="t r" x="213" y="76">0 rows</text></g>
<g id="ta_config_atencao_domiciliar" transform="translate(956,3420)"><rect class="hd" width="277" height="32"/><rect class="bd" y="32" width="277" height="26"/><rect class="bd" y="58" width="277" height="26"/><path class="dv" d="M90,58v26M201,58v26"/><text class="h" x="6" y="20">ta_config_atencao_domiciliar</text><text class="t r" x="270" y="21">[table]</text><text class="t" x="5" y="50">...</text><text class="t" x="4" y="76">&lt; 2</text><text class="t r" x="196" y="76">0 rows</text></g>
<g id="tb_config_atencao_domiciliar" transform="translate(597,3457)"><rect class="hd" width="278" height="32"/><rect class="bd" y="32" width="278" height="26"/><rect class="bd" y="58" width="278" height="26"/><path class="dv" d="M86,58v26M193,58v26"/><text class="h" x="6" y="20">tb_config_atencao_domiciliar</text><text class="t r" x="271" y="21">[table]</text><text class="t" x="5" y="50">...</text><text class="t" x="4" y="76">&lt; 1</text><text class="t r" x="188" y="76">0 rows</text><text class="t r" x="273" y="76">2 &gt;</text></g>
<g id="ta_envio_rnds" transform="translate(1014,3568)"><rect class="hd" width="161" height="32"/><rect class="bd" y="32" width="161" height="26"/><rect class="bd" y="58" width="161" height="26"/><path class="dv" d="M51,58v26M124,58v26"/><text class="h" x="6" y="20">ta_envio_rnds</text><text class="t r" x="154" y="21">[table]</text><text class="t" x="5" y="50">...</text><text class="t" x="4" y="76">&lt; 2</text><text class="t r" x="119" y="76">0 rows</text></g>
<g id="tb_envio_rnds" transform="translate(656,3604)"><rect class="hd" width="161" height="32"/><rect class="bd" y="32" width="161" height="26"/><rect class="bd" y="58" width="161" height="26"/><path class="dv" d="M46,58v26M115,58v26"/><text class="h" x="6" y="20">tb_envio_rnds</text><text class="t r" x="154" y="21">[table]</text><text class="t" x="5" y="50">...</text><text class="t" x="4" y="76">&lt; 1</text><text class="t r" x="110" y="76">0 rows</text><text class="t r" x="156" y="76">1 &gt;</text></g>
<g id="ta_gestor_municipal" transform="translate(632,3716)"><rect class="hd" width="208" height="32"/><rect class="bd" y="32" width="208" height="26"/><rect class="bd" y="58" width="208" height="26"/><path class="dv" d="M66,58v26M155,58v26"/><text class="h" x="6" y="20">ta_gestor_municipal</text><text class="t r" x="201" y="21">[table]</text><text class="t" x="5" y="50">...</text><text class="t" x="4" y="76">&lt; 1</text><text class="t r" x="150" y="76">0 rows</text></g>
<g id="ta_grupo_exame" transform="translate(1005,3833)"><rect class="hd" width="179" height="32"/><rect class="bd" y="32" width="179" height="26"/><rect class="bd" y="58" width="179" height="26"/><path class="dv" d="M57,58v26M135,58v26"/><text class="h" x="6" y="20">ta_grupo_exame</text><text class="t r" x="172" y="21">[table]</text><text class="t" x="5" y="50">...</text><text class="t" x="4" y="76">&lt; 2</text><text class="t r" x="130" y="76">0 rows</text></g>
<g id="tb_grupo_exame" transform="translate(646,3862)"><rect class="hd" width="180" height="32"/><rect class="bd" y="32" width="180" height="26"/><rect class="bd" y="58" width="180" height="26"/><path class="dv" d="M53,58v26M128,58v26"/><text class="h" x="6" y="20">tb_grupo_exame</text><text class="t r" x="173" y="21">[table]</text><text class="t" x="5" y="50">...</text><text class="t" x="4" y="76">&lt; 1</text><text class="t r" x="123" y="76">0 rows</text><text class="t r" x="175" y="76">2 &gt;</text></g>
<g id="ta_perfil" transform="translate(1038,3963)"><rect class="hd" width="113" height="32"/><rect class="bd" y="32" width="113" height="26"/><rect class="bd" y="58" width="113" height="26"/><path class="dv" d="M30,58v26M97,58v26"/><text class="h" x="6" y="20">ta_perfil</text><text class="t r" x="106" y="21">[table]</text><text class="t" x="5" y="50">...</text><text class="t" x="4" y="76">&lt; 2</text><text class="t r" x="92" y="76">192 rows</text></g>
<g id="tb_perfil" transform="translate(674,4009)"><rect class="hd" width="125" height="32"/><rect class="bd" y="32" width="125" height="26"/><rect class="bd" y="58" width="125" height="26"/><path class="dv" d="M29,58v26M96,58v26"/><text class="h" x="6" y="20">tb_perfil</text><text class="t r" x="118" y="21">[table]</text><text class="t" x="5" y="50">...</text><text class="t" x="4" y="76">&lt; 1</text><text class="t r" x="91" y="76">195 rows</text><text class="t r" x="120" y="76">3 &gt;</text></g>
<g id="ta_prof_municipio" transform="translate(640,4121)"><rect class="hd" width="192" height="32"/><rect class="bd" y="32" width="192" height="26"/><rect class="bd" y="58" width="192" height="26"/><path class="dv" d="M61,58v26M144,58v26"/><text class="h" x="6" y="20">ta_prof_municipio</text><text class="t r" x="185" y="21">[table]</text><text class="t" x="5" y="50">...</text><text class="t" x="4" y="76">&lt; 1</text><text class="t r" x="139" y="76">0 rows</text></g>
<g id="ta_tipo_servico" transform="translate(1010,4231)"><rect class="hd" width="170" height="32"/><rect class="bd" y="32" width="170" height="26"/><rect class="bd" y="58" width="170" height="26"/><path class="dv" d="M53,58v26M128,58v26"/><text class="h" x="6" y="20">ta_tipo_servico</text><text class="t r" x="163" y="21">[table]</text><text class="t" x="5" y="50">...</text><text class="t" x="4" y="76">&lt; 2</text><text class="t r" x="123" y="76">0 rows</text></g>
<g id="tb_tipo_servico" transform="translate(651,4268)"><rect class="hd" width="170" height="32"/><rect class="bd" y="32" width="170" height="26"/><rect class="bd" y="58" width="170" height="26"/><path class="dv" d="M47,58v26M124,58v26"/><text class="h" x="6" y="20">tb_tipo_servico</text><text class="t r" x="163" y="21">[table]</text><text class="t" x="5" y="50">...</text><text class="t" x="4" y="76">&lt; 1</text><text class="t r" x="119" y="76">10 rows</text><text class="t r" x="165" y="76">5 &gt;</text></g>
<g id="tb_bairro" transform="translate(664,4380)"><rect class="hd" width="145" height="32"/><rect class="bd" y="32" width="145" height="26"/><rect class="bd" y="58" width="145" height="26"/><path class="dv" d="M29,58v26M116,58v26"/><text class="h" x="6" y="20">tb_bairro</text><text class="t r" x="138" y="21">[table]</text><text class="t" x="5" y="50">...</text><text class="t" x="4" y="76">&lt; 1</text><text class="t r" x="112" y="76">63.148 rows</text><text class="t r" x="140" y="76">1 &gt;</text></g>
<g id="tb_cds_ficha_atend_domiciliar" transform="translate(594,4492)"><rect class="hd" width="286" height="32"/><rect class="bd" y="32" width="286" height="26"/><rect class="bd" y="58" width="286" height="26"/><path class="dv" d="M88,58v26M198,58v26"/><text class="h" x="6" y="20">tb_cds_ficha_atend_domiciliar</text><text class="t r" x="279" y="21">[table]</text><text class="t" x="5" y="50">...</text><text class="t" x="4" y="76">&lt; 3</text><text class="t r" x="193" y="76">0 rows</text><text class="t r" x="281" y="76">1 &gt;</text></g>
<g id="tb_cds_ficha_atend_individual" transform="translate(594,4604)"><rect class="hd" width="285" height="32"/><rect class="bd" y="32" width="285" height="26"/><rect class="bd" y="58" width="285" height="26"/><path class="dv" d="M88,58v26M197,58v26"/><text class="h" x="6" y="20">tb_cds_ficha_atend_individual</text><text class="t r" x="278" y="21">[table]</text><text class="t" x="5" y="50">...</text><text class="t" x="4" y="76">&lt; 2</text><text class="t r" x="192" y="76">0 rows</text><text class="t r" x="280" y="76">2 &gt;</text></g>
<g id="tb_cds_ficha_atend_odonto" transform="translate(604,4716)"><rect class="hd" width="265" height="32"/><rect class="bd" y="32" width="265" height="26"/><rect class="bd" y="58" width="265" height="26"/><path class="dv" d="M81,58v26M184,58v26"/><text class="h" x="6" y="20">tb_cds_ficha_atend_odonto</text><text class="t r" x="258" y="21">[table]</text><text class="t" x="5" y="50">...</text><text class="t" x="4" y="76">&lt; 2</text><text class="t r" x="179" y="76">0 rows</text><text class="t r" x="260" y="76">2 &gt;</text></g>
<g id="tb_cds_ficha_ativ_col" transform="translate(627,4828)"><rect class="hd" width="218" height="32"/><rect class="bd" y="32" width="218" height="26"/><rect class="bd" y="58" width="218" height="26"/><path class="dv" d="M66,58v26M154,58v26"/><text class="h" x="6" y="20">tb_cds_ficha_ativ_col</text><text class="t r" x="211" y="21">[table]</text><text class="t" x="5" y="50">...</text><text class="t" x="4" y="76">&lt; 5</text><text class="t r" x="149" y="76">0 rows</text><text class="t r" x="213" y="76">5 &gt;</text></g>
<g id="tb_cds_ficha_consumo_alimentar" transform="translate(582,4940)"><rect class="hd" width="310" height="32"/><rect class="bd" y="32" width="310" height="26"/><rect class="bd" y="58" width="310" height="26"/><path class="dv" d="M100,58v26M222,58v26"/><text class="h" x="6" y="20">tb_cds_ficha_consumo_alimentar</text><text class="t r" x="303" y="21">[table]</text><text class="t" x="5" y="50">...</text><text class="t" x="4" y="76">&lt; 5</text><text class="t r" x="217" y="76">0 rows</text></g>
<g id="tb_cds_ficha_proced" transform="translate(630,5052)"><rect class="hd" width="213" height="32"/><rect class="bd" y="32" width="213" height="26"/><rect class="bd" y="58" width="213" height="26"/><path class="dv" d="M64,58v26M150,58v26"/><text class="h" x="6" y="20">tb_cds_ficha_proced</text><text class="t r" x="206" y="21">[table]</text><text class="t" x="5" y="50">...</text><text class="t" x="4" y="76">&lt; 2</text><text class="t r" x="145" y="76">0 rows</text><text class="t r" x="208" y="76">1 &gt;</text></g>
<g id="tb_cds_ficha_vacinacao" transform="translate(618,5164)"><rect class="hd" width="237" height="32"/><rect class="bd" y="32" width="237" height="26"/><rect class="bd" y="58" width="237" height="26"/><path class="dv" d="M71,58v26M165,58v26"/><text class="h" x="6" y="20">tb_cds_ficha_vacinacao</text><text class="t r" x="230" y="21">[table]</text><text class="t" x="5" y="50">...</text><text class="t" x="4" y="76">&lt; 3</text><text class="t r" x="160" y="76">0 rows</text><text class="t r" x="232" y="76">1 &gt;</text></g>
<g id="tb_cds_ficha_visita_domiciliar" transform="translate(594,5276)"><rect class="hd" width="285" height="32"/><rect class="bd" y="32" width="285" height="26"/><rect class="bd" y="58" width="285" height="26"/><path class="dv" d="M88,58v26M197,58v26"/><text class="h" x="6" y="20">tb_cds_ficha_visita_domiciliar</text><text class="t r" x="278" y="21">[table]</text><text class="t" x="5" y="50">...</text><text class="t" x="4" y="76">&lt; 2</text><text class="t r" x="192" y="76">0 rows</text><text class="t r" x="280" y="76">1 &gt;</text></g>
<g id="tb_cds_ficha_zika_microcefalia" transform="translate(591,5388)"><rect class="hd" width="291" height="32"/><rect class="bd" y="32" width="291" height="26"/><rect class="bd" y="58" width="291" height="26"/><path class="dv" d="M94,58v26M210,58v26"/><text class="h" x="6" y="20">tb_cds_ficha_zika_microcefalia</text><text class="t r" x="284" y="21">[table]</text><text class="t" x="5" y="50">...</text><text class="t" x="4" y="76">&lt; 9</text><text class="t r" x="205" y="76">0 rows</text></g>
<g id="tb_cnes" transform="translate(628,5500)"><rect class="hd" width="217" height="33"/><rect class="bd" y="33" width="217" height="30"/><rect class="bd" y="63" width="217" height="29"/><rect class="bd" y="92" width="217" height="29"/><rect class="bd" y="121" width="217" height="28"/><path class="dv" d="M135,33v88M58,121v28M135,121v28"/><rect width="217" height="149" fill="none" stroke="#000" stroke-width="3"/><text class="h" x="7" y="21">tb_cnes</text><text class="t r" x="210" y="22">[table]</text><use xlink:href="#keyY" x="16" y="50"/><text class="c" x="28" y="54">co_seq_cnes</text><text class="c" x="139" y="54">int8[19]</text><text class="c" x="28" y="83">nu_versao</text><text class="c" x="139" y="83">varchar[10]</text><use xlink:href="#keyG" x="16" y="108"/><text class="c" x="28" y="112">co_localidade</text><text class="c" x="139" y="112">int8[19]</text><text class="t" x="4" y="140">&lt; 1</text><text class="t r" x="131" y="140">0 rows</text><text class="t r" x="211" y="140">0 &gt;</text></g>
<g id="tb_gestor_municipal" transform="translate(632,5678)"><rect class="hd" width="209" height="32"/><rect class="bd" y="32" width="209" height="26"/><rect class="bd" y="58" width="209" height="26"/><path class="dv" d="M67,58v26M156,58v26"/><text class="h" x="6" y="20">tb_gestor_municipal</text><text class="t r" x="202" y="21">[table]</text><text class="t" x="5" y="50">...</text><text class="t" x="4" y="76">&lt; 2</text><text class="t r" x="151" y="76">0 rows</text></g>
<g id="tb_inep" transform="translate(667,5790)"><rect class="hd" width="139" height="32"/><rect class="bd" y="32" width="139" height="26"/><rect class="bd" y="58" width="139" height="26"/><path class="dv" d="M28,58v26M123,58v26"/><text class="h" x="6" y="20">tb_inep</text><text class="t r" x="132" y="21">[table]</text><text class="t" x="5" y="50">...</text><text class="t" x="4" y="76">&lt; 1</text><text class="t r" x="118" y="76">278.134 rows</text></g>
<text x="16" y="5920" style="font-size:13px;letter-spacing:0.8px">Generated by SchemaSpy</text>
</svg>
